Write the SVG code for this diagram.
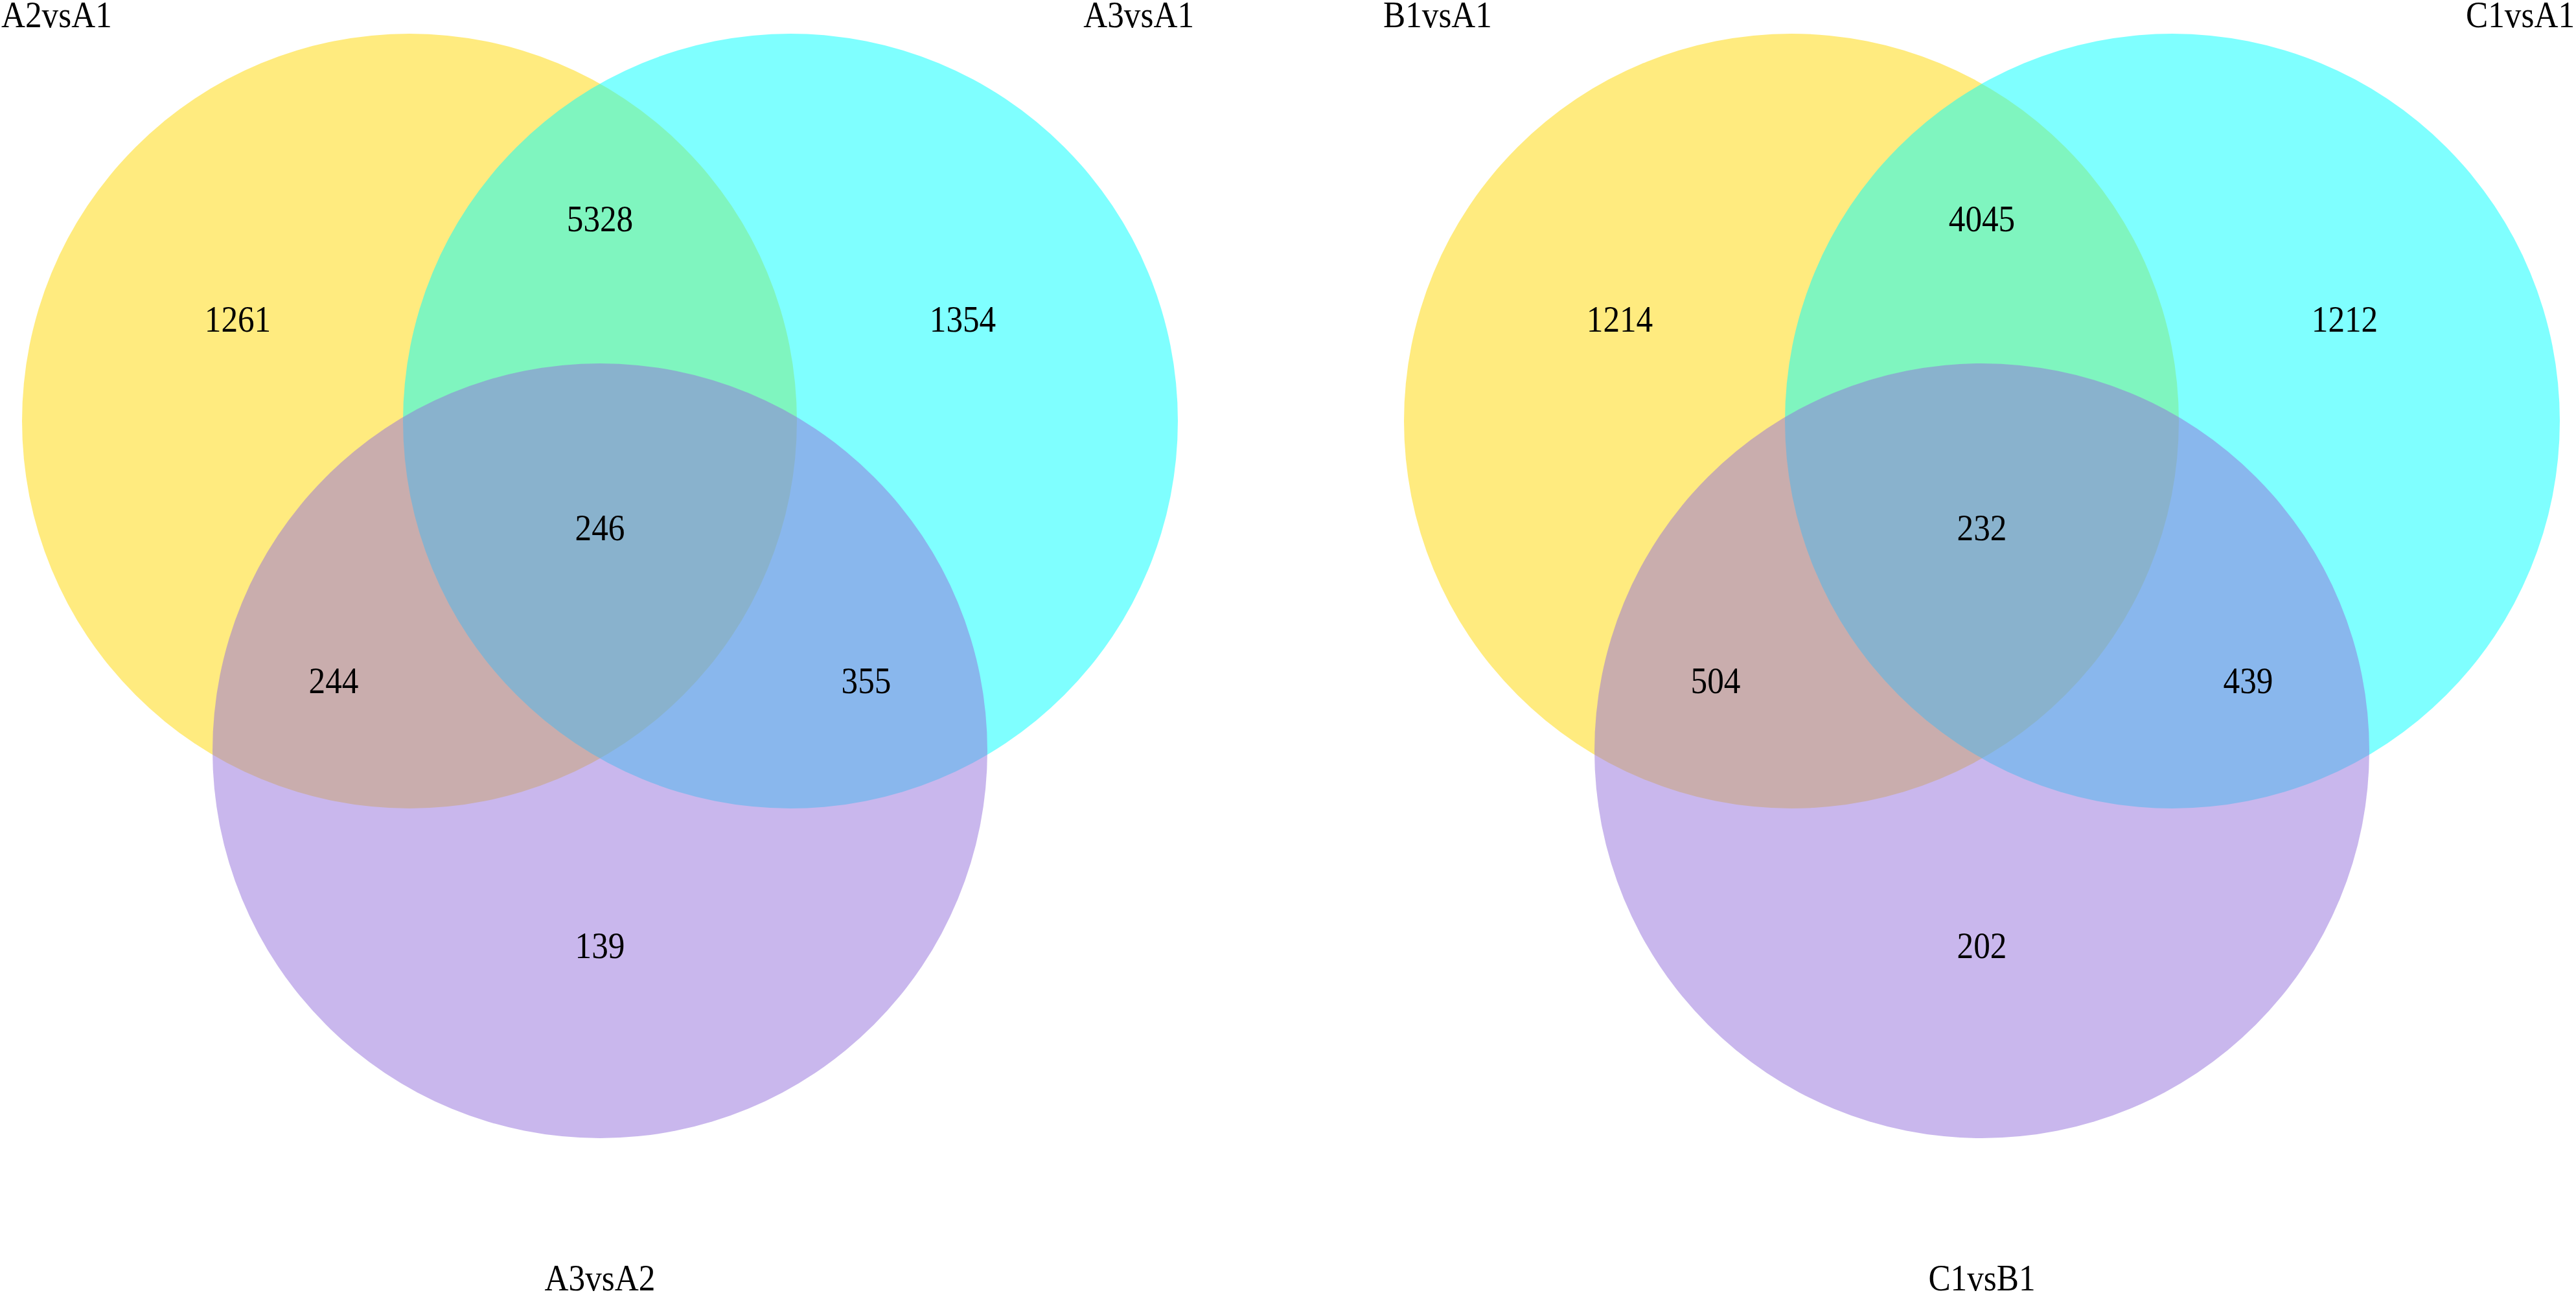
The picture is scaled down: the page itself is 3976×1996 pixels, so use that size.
<svg xmlns="http://www.w3.org/2000/svg" width="3976" height="1996" viewBox="0 0 3976 1996">
<style>
.y{fill:#FFD700;fill-opacity:0.5}
.c{fill:#00FFFF;fill-opacity:0.5}
.p{fill:#9370DB;fill-opacity:0.5}
text{font-family:"Liberation Serif","Times New Roman",serif;font-size:56px;fill:#000}
.m{text-anchor:middle}
.e{text-anchor:end}
</style>
<rect width="3976" height="1996" fill="#fff"/>
<g id="venn-left">
  <g id="set-A2vsA1"><circle class="y" cx="632" cy="650" r="598"/></g>
  <g id="set-A3vsA1"><circle class="c" cx="1220" cy="650" r="598"/></g>
  <g id="set-A3vsA2"><circle class="p" cx="926" cy="1159" r="598"/></g>
  <g id="labels-left">
    <text transform="translate(2,42) scale(0.915,1)">A2vsA1</text>
    <text class="e" transform="translate(1843,42) scale(0.915,1)">A3vsA1</text>
    <text class="m" transform="translate(926,1992) scale(0.915,1)">A3vsA2</text>
    <text class="m" transform="translate(367,512) scale(0.915,1)">1261</text>
    <text class="m" transform="translate(926,357) scale(0.915,1)">5328</text>
    <text class="m" transform="translate(1486,512) scale(0.915,1)">1354</text>
    <text class="m" transform="translate(926,834) scale(0.915,1)">246</text>
    <text class="m" transform="translate(515,1070) scale(0.915,1)">244</text>
    <text class="m" transform="translate(1337,1070) scale(0.915,1)">355</text>
    <text class="m" transform="translate(926,1479) scale(0.915,1)">139</text>
  </g>
</g>
<g id="venn-right">
  <g id="set-B1vsA1"><circle class="y" cx="2765" cy="650" r="598"/></g>
  <g id="set-C1vsA1"><circle class="c" cx="3353" cy="650" r="598"/></g>
  <g id="set-C1vsB1"><circle class="p" cx="3059" cy="1159" r="598"/></g>
  <g id="labels-right">
    <text transform="translate(2135,42) scale(0.915,1)">B1vsA1</text>
    <text class="e" transform="translate(3974,42) scale(0.915,1)">C1vsA1</text>
    <text class="m" transform="translate(3059,1992) scale(0.915,1)">C1vsB1</text>
    <text class="m" transform="translate(2500,512) scale(0.915,1)">1214</text>
    <text class="m" transform="translate(3059,357) scale(0.915,1)">4045</text>
    <text class="m" transform="translate(3619,512) scale(0.915,1)">1212</text>
    <text class="m" transform="translate(3059,834) scale(0.915,1)">232</text>
    <text class="m" transform="translate(2648,1070) scale(0.915,1)">504</text>
    <text class="m" transform="translate(3470,1070) scale(0.915,1)">439</text>
    <text class="m" transform="translate(3059,1479) scale(0.915,1)">202</text>
  </g>
</g>
<g id="connectors"></g>
</svg>
